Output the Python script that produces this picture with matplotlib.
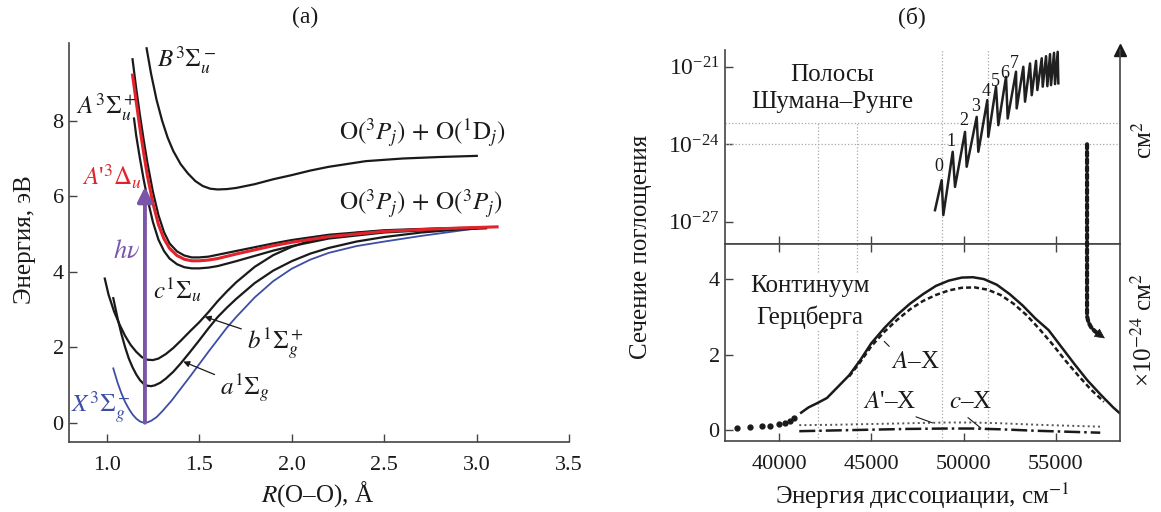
import numpy as np
import matplotlib
matplotlib.use('Agg')
import matplotlib.pyplot as plt
from matplotlib.patches import ConnectionPatch

plt.rcParams['font.family'] = ['Liberation Serif', 'DejaVu Serif']
plt.rcParams['mathtext.fontset'] = 'stix'
plt.rcParams['font.size'] = 16

# ---- panel (а): potential curves of O2, R in angstrom, E in eV ----
R_X = [1.036, 1.06, 1.08, 1.10, 1.12, 1.14, 1.16, 1.18, 1.20, 1.22, 1.24, 1.27, 1.30,
       1.35, 1.40, 1.45, 1.50, 1.55, 1.60, 1.65, 1.70, 1.80, 1.90, 2.00, 2.10, 2.20,
       2.35, 2.50, 2.70, 2.85, 3.00]
E_X = [1.44, 1.05, 0.78, 0.55, 0.37, 0.22, 0.11, 0.035, 0.0, 0.01, 0.05, 0.15, 0.3,
       0.58, 0.9, 1.22, 1.55, 1.88, 2.2, 2.52, 2.8, 3.32, 3.75, 4.08, 4.32, 4.5,
       4.68, 4.8, 4.95, 5.05, 5.15]

R_a = [1.036, 1.06, 1.08, 1.10, 1.12, 1.14, 1.16, 1.18, 1.20, 1.22, 1.24, 1.26, 1.29,
       1.32, 1.36, 1.40, 1.45, 1.50, 1.55, 1.60, 1.65, 1.70, 1.80, 1.90, 2.00, 2.10,
       2.20, 2.35, 2.50, 2.70, 2.90, 3.05]
E_a = [3.3, 2.75, 2.35, 2.0, 1.7, 1.47, 1.28, 1.13, 1.03, 0.98, 0.97, 0.99, 1.06,
       1.17, 1.35, 1.57, 1.87, 2.18, 2.5, 2.8, 3.05, 3.28, 3.7, 4.03, 4.28, 4.48,
       4.63, 4.8, 4.92, 5.04, 5.12, 5.15]

R_b = [0.99, 1.01, 1.04, 1.07, 1.10, 1.13, 1.16, 1.19, 1.22, 1.25, 1.28, 1.32, 1.36,
       1.40, 1.45, 1.50, 1.55, 1.60, 1.65, 1.70, 1.80, 1.90, 2.00, 2.10, 2.20, 2.35,
       2.50, 2.70, 2.90, 3.05]
E_b = [3.82, 3.4, 2.95, 2.6, 2.3, 2.06, 1.88, 1.74, 1.67, 1.66, 1.7, 1.82, 1.98,
       2.17, 2.42, 2.66, 2.93, 3.22, 3.48, 3.72, 4.13, 4.44, 4.66, 4.82, 4.93, 5.03,
       5.08, 5.12, 5.15, 5.17]

R_c = [1.148, 1.16, 1.18, 1.20, 1.22, 1.25, 1.28, 1.31, 1.34, 1.38, 1.42, 1.46, 1.50,
       1.55, 1.60, 1.70, 1.80, 1.90, 2.00, 2.20, 2.50, 2.80, 3.00]
E_c = [8.06, 7.6, 7.0, 6.45, 5.95, 5.32, 4.85, 4.55, 4.35, 4.2, 4.12, 4.09, 4.09,
       4.11, 4.15, 4.28, 4.42, 4.56, 4.68, 4.88, 5.04, 5.12, 5.16]

R_Ap = [1.14, 1.16, 1.18, 1.20, 1.22, 1.25, 1.28, 1.31, 1.34, 1.38, 1.42, 1.46, 1.50,
        1.55, 1.60, 1.70, 1.80, 1.90, 2.00, 2.20, 2.50, 2.80, 3.11]
E_Ap = [9.21, 8.5, 7.8, 7.15, 6.55, 5.82, 5.25, 4.87, 4.62, 4.43, 4.33, 4.29, 4.29,
        4.31, 4.35, 4.47, 4.58, 4.69, 4.78, 4.93, 5.07, 5.14, 5.19]

R_A = [1.14, 1.16, 1.18, 1.20, 1.22, 1.25, 1.28, 1.31, 1.34, 1.38, 1.42, 1.46, 1.50,
       1.55, 1.60, 1.70, 1.80, 1.90, 2.00, 2.20, 2.50, 2.80, 3.00]
E_A = [9.63, 8.85, 8.15, 7.5, 6.9, 6.12, 5.5, 5.05, 4.75, 4.54, 4.43, 4.38, 4.38,
       4.4, 4.45, 4.55, 4.65, 4.75, 4.84, 4.98, 5.1, 5.15, 5.17]

R_B = [1.216, 1.24, 1.27, 1.30, 1.33, 1.36, 1.40, 1.44, 1.48, 1.52, 1.56, 1.60, 1.65,
       1.70, 1.80, 1.90, 2.00, 2.10, 2.20, 2.40, 2.60, 2.80, 3.00]
E_B = [9.92, 9.25, 8.55, 8.0, 7.55, 7.2, 6.85, 6.6, 6.4, 6.27, 6.2, 6.18, 6.19,
       6.22, 6.32, 6.45, 6.56, 6.68, 6.78, 6.93, 7.0, 7.04, 7.07]

hv_R = 1.207
hv_E = [0.0, 6.25]

# ---- panel (б): absorption cross sections ----
# Schumann-Runge bands, log10(sigma / cm^2)
sr_wn = [48451, 48813, 48901, 49409, 49534, 50076, 50166, 50708, 50797, 51283, 51337,
         51755, 51879, 52297, 52387, 52838, 52874, 53234, 53326, 53597, 53689, 53922,
         53994, 54231, 54285, 54464, 54535, 54680, 54734, 54897, 54951, 55095, 55130]
sr_lg = [-26.55, -25.39, -26.74, -24.29, -25.65, -23.52, -24.87, -22.94, -24.29, -22.29,
         -23.71, -21.77, -23.26, -21.39, -23.0, -21.19, -22.61, -21.0, -22.35, -20.87,
         -22.1, -20.77, -21.9, -20.67, -21.77, -20.59, -21.75, -20.51, -21.71, -20.46,
         -21.67, -20.42, -21.64]
sr_bands = ['0', '1', '2', '3', '4', '5', '6', '7']

# Herzberg continuum, 1e-24 cm^2
hz_wn = [41200, 41600, 42100, 42600, 43200, 43800, 44400, 45000, 45700, 46400,
         47100, 47800, 48500, 49200, 49900, 50500, 51100, 51800, 52500, 53200,
         53900, 54600, 55300, 56000, 56700, 57400, 58100, 58470]
hz_total = [0.46, 0.6, 0.72, 0.85, 1.15, 1.45, 1.85, 2.3, 2.7, 3.05,
            3.35, 3.6, 3.82, 3.96, 4.04, 4.05, 4.0, 3.85, 3.6, 3.3,
            2.95, 2.65, 2.2, 1.75, 1.32, 0.95, 0.6, 0.44]
ax_wn = [43800, 44400, 45000, 45700, 46400, 47100, 47800, 48500, 49200, 49900, 50600,
         51300, 52000, 52700, 53400, 54100, 54800, 55500, 56200, 56900, 57600]
ax_val = [1.42, 1.8, 2.22, 2.6, 2.92, 3.2, 3.42, 3.58, 3.7, 3.77, 3.78,
          3.72, 3.58, 3.35, 3.05, 2.68, 2.28, 1.85, 1.45, 1.07, 0.75]
low_wn = [37710, 38430, 39060, 39510, 40020, 40330, 40600, 40800]
low_val = [0.06, 0.08, 0.1, 0.12, 0.15, 0.19, 0.25, 0.32]
weak_wn = [41100, 43000, 45000, 47000, 49000, 50500, 52000, 54000, 56000, 57400]
apx_val = [0.13, 0.14, 0.16, 0.18, 0.2, 0.2, 0.18, 0.14, 0.11, 0.09]
cx_val = [-0.03, -0.01, 0.01, 0.03, 0.04, 0.04, 0.02, -0.02, -0.05, -0.07]

grid_wn = [42140, 44220, 48820, 51300]
grid_lg = [-23.18, -24.0]

INK = '#1a1a1a'
SPINE = '#444444'
RED = '#e3232b'
BLUE = '#3c4ea6'
PURPLE = '#7b55a8'
GRID = '#a8a8a8'

W, H = 1161, 512
fig = plt.figure(figsize=(W / 100, H / 100), dpi=100)


def box(x0, y0, x1, y1):
    # pixel box (top-left origin) -> figure fraction rect
    return [x0 / W, 1 - y1 / H, (x1 - x0) / W, (y1 - y0) / H]


def style(ax):
    for s in ax.spines.values():
        s.set_color(SPINE)
        s.set_linewidth(1.2)
    ax.tick_params(direction='in', length=6, width=1, color=SPINE,
                   labelsize=16, labelcolor=INK)


# ---------------- panel (а) ----------------
ax = fig.add_axes(box(68.5, 43, 569.3, 442))
style(ax)
ax.spines['top'].set_visible(False)
ax.spines['right'].set_visible(False)
ax.set_xlim(0.794, 3.5)
ax.set_ylim(-0.51, 10.06)
ax.set_xticks([1.0, 1.5, 2.0, 2.5, 3.0, 3.5])
ax.set_xticklabels(['1.0', '1.5', '2.0', '2.5', '3.0', '3.5'])
ax.set_yticks([0, 2, 4, 6, 8])
ax.tick_params(axis='x', pad=10)

ax.plot(R_X, E_X, color=BLUE, lw=1.3)
ax.plot(R_a, E_a, color=INK, lw=1.6)
ax.plot(R_b, E_b, color=INK, lw=1.6)
ax.plot(R_c, E_c, color=INK, lw=1.6)
ax.plot(R_A, E_A, color=INK, lw=1.6)
ax.plot(R_Ap, E_Ap, color=RED, lw=2.2)
ax.plot(R_B, E_B, color=INK, lw=1.6)

ax.annotate('', xy=(hv_R, hv_E[1]), xytext=(hv_R, hv_E[0]),
            arrowprops=dict(arrowstyle='-|>', color=PURPLE, lw=2.8,
                            mutation_scale=22, shrinkA=0, shrinkB=0))
ax.text(1.108, 4.53, r'$h\nu$', color=PURPLE, fontsize=19, ha='center', va='center')

ax.text(1.27, 9.6, r'$B^3\Sigma_u^-$', fontsize=18, ha='left', va='center', color=INK)
ax.text(0.837, 8.37, r'$A^3\Sigma_u^+$', fontsize=18, ha='left', va='center', color=INK)
ax.text(0.865, 6.52, r"$A$'$^3\Delta_u$", fontsize=18, ha='left', va='center', color=RED)
ax.text(0.805, 0.42, r'$X^3\Sigma_g^-$', fontsize=18, ha='left', va='center', color=BLUE)
ax.text(1.252, 3.52, r'$c^1\Sigma_u$', fontsize=18, ha='left', va='center', color=INK)
ax.annotate(r'$b^1\Sigma_g^+$', xy=(1.53, 2.81), xytext=(1.757, 2.1), fontsize=18,
            ha='left', va='center', color=INK,
            arrowprops=dict(arrowstyle='-|>', color=INK, lw=0.9, mutation_scale=9,
                            shrinkA=2, shrinkB=0, relpos=(0, 0.85)))
ax.annotate(r'$a^1\Sigma_g$', xy=(1.414, 1.62), xytext=(1.612, 0.91), fontsize=18,
            ha='left', va='center', color=INK,
            arrowprops=dict(arrowstyle='-|>', color=INK, lw=0.9, mutation_scale=9,
                            shrinkA=2, shrinkB=0, relpos=(0, 0.85)))
ax.text(2.705, 7.67, r'$\mathrm{O}(^3P_j)\,+\,\mathrm{O}(^1\mathrm{D}_j)$', fontsize=18,
        ha='center', va='center', color=INK)
ax.text(2.70, 5.81, r'$\mathrm{O}(^3P_j)\,+\,\mathrm{O}(^3P_j)$', fontsize=18,
        ha='center', va='center', color=INK)

fig.text(305 / W, 1 - 17 / H, '(а)', ha='center', va='center', fontsize=17, color=INK)
fig.text(25 / W, 1 - 240 / H, 'Энергия, эВ', rotation=90, ha='center', va='center',
         fontsize=18, color=INK)
fig.text(318 / W, 1 - 494 / H, r'$R$(O–O), Å', ha='center', va='center',
         fontsize=18, color=INK)

# ---------------- panel (б), top: log scale ----------------
xl = (37050, 58470)
axt = fig.add_axes(box(724.5, 50, 1120, 244))
style(axt)
axt.spines['top'].set_visible(False)
axt.set_yscale('log')
axt.set_xlim(*xl)
axt.set_ylim(10 ** -27.86, 10 ** -20.35)
axt.set_yticks([1e-27, 1e-24, 1e-21])
axt.minorticks_off()
axt.set_xticks([40000, 45000, 50000, 55000])
axt.tick_params(axis='x', labelbottom=False)
axt.tick_params(axis='y', labelsize=17)
axt.plot(1, 1, '^', transform=axt.transAxes, clip_on=False, color=INK, ms=9)

for lg in grid_lg:
    axt.axhline(10 ** lg, color=GRID, lw=0.9, ls=':')
for wn in grid_wn[:2]:
    axt.plot([wn, wn], [10 ** -27.86, 10 ** grid_lg[0]], color=GRID, lw=0.9, ls=':')
for wn in grid_wn[2:]:
    axt.axvline(wn, color=GRID, lw=0.9, ls=':')

axt.plot(sr_wn, 10 ** np.array(sr_lg), color='#202020', lw=1.8)
band_pos = [(48630, -24.87), (49300, -23.9), (50021, -23.06), (50654, -22.55),
            (51213, -21.97), (51700, -21.58), (52242, -21.26), (52746, -20.87)]
for lab, (wn, lg) in zip(sr_bands, band_pos):
    axt.text(wn, 10 ** lg, lab, fontsize=13, ha='center', va='center', color=INK)
axt.text(42890, 10 ** -21.84, 'Полосы\nШумана–Рунге', fontsize=18, ha='center',
         va='center', linespacing=1.35, color=INK)

# ---------------- panel (б), bottom: linear scale ----------------
axb = fig.add_axes(box(724.5, 244, 1120, 441))
style(axb)
axb.set_xlim(*xl)
axb.set_ylim(-0.29, 4.93)
axb.set_yticks([0, 2, 4])
axb.set_xticks([40000, 45000, 50000, 55000])
axb.tick_params(axis='x', top=True, pad=10)

for wn in grid_wn:
    axb.axvline(wn, color=GRID, lw=0.9, ls=':')

axb.plot(low_wn, low_val, 'o', color=INK, ms=3.5)
axb.plot(hz_wn, hz_total, color=INK, lw=1.8)
axb.plot(ax_wn, ax_val, color=INK, lw=1.8, ls=(0, (2, 1.2)))
axb.plot(weak_wn, apx_val, color='#555555', lw=1.4, ls=':')
axb.plot(weak_wn, cx_val, color=INK, lw=1.8, ls='-.')

axb.text(41680, 3.4, 'Континуум\nГерцберга', fontsize=18, ha='center', va='center',
         linespacing=1.45, color=INK,
         bbox=dict(facecolor='white', edgecolor='none', pad=1))
axb.annotate(r'$A$–X', xy=(45700, 2.35), xytext=(47400, 1.8), fontsize=18,
             ha='center', va='center', color=INK,
             arrowprops=dict(arrowstyle='-', color=INK, lw=0.8, shrinkA=2, shrinkB=0,
                             relpos=(0.1, 0.9)))
axb.annotate(r"$A$'–X", xy=(48320, 0.19), xytext=(46000, 0.74), fontsize=18,
             ha='center', va='center', color=INK,
             arrowprops=dict(arrowstyle='-', color=INK, lw=0.8, shrinkA=2, shrinkB=0,
                             relpos=(0.8, 0.0)))
axb.annotate(r'$c$–X', xy=(50940, 0.05), xytext=(50400, 0.74), fontsize=18,
             ha='center', va='center', color=INK,
             arrowprops=dict(arrowstyle='-', color=INK, lw=0.8, shrinkA=2, shrinkB=0,
                             relpos=(0.3, 0.0)))

# dotted arrow: bands -> continuum scale (dotted body, solid head)
end_pt = (57650, 2.43)
con = ConnectionPatch(xyA=(56685, 1e-24), coordsA='data', axesA=axt,
                      xyB=end_pt, coordsB='data', axesB=axb,
                      arrowstyle='-', linestyle=(0, (1, 0.8)), lw=3, color=INK,
                      shrinkB=5, connectionstyle='angle,angleA=-90,angleB=145,rad=12')
fig.add_artist(con)
axb.annotate('', xy=end_pt, xytext=(-9, 6.3), textcoords='offset points',
             arrowprops=dict(arrowstyle='-|>', color=INK, lw=0.5,
                             mutation_scale=16, shrinkA=0, shrinkB=0))

fig.text(912 / W, 1 - 17 / H, '(б)', ha='center', va='center', fontsize=17, color=INK)
fig.text(641 / W, 1 - 247 / H, 'Сечение поглощения', rotation=90, ha='center',
         va='center', fontsize=18, color=INK)
fig.text(922 / W, 1 - 496 / H, r'Энергия диссоциации, см$^{-1}$', ha='center',
         va='center', fontsize=18, color=INK)
fig.text(1144 / W, 1 - 140 / H, r'см$^2$', rotation=90, ha='center', va='center',
         fontsize=18, color=INK)
fig.text(1144 / W, 1 - 330 / H, r'×10$^{-24}$ см$^2$', rotation=90, ha='center',
         va='center', fontsize=18, color=INK)

fig.savefig('out.png', dpi=100)
